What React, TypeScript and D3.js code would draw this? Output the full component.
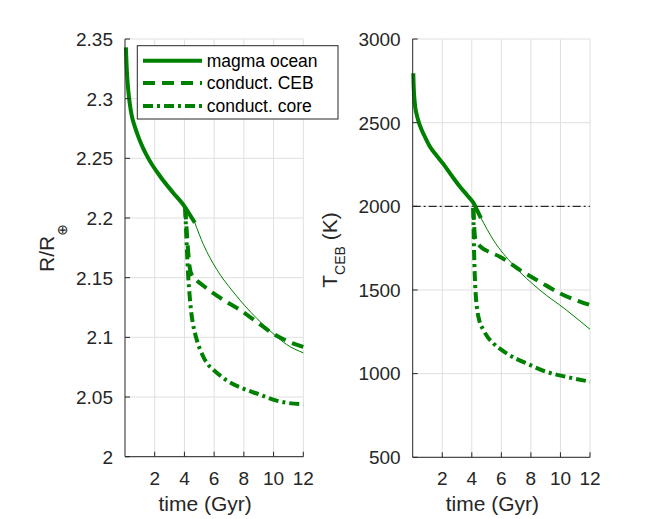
import React from "react";
import * as d3 from "d3";

// ---------- data ----------
const xTicks = [2, 4, 6, 8, 10, 12];
const rTicks = [2, 2.05, 2.1, 2.15, 2.2, 2.25, 2.3, 2.35];
const rTickLabels = ["2", "2.05", "2.1", "2.15", "2.2", "2.25", "2.3", "2.35"];
const tTicks = [500, 1000, 1500, 2000, 2500, 3000];
const tTickLabels = ["500", "1000", "1500", "2000", "2500", "3000"];

// Left panel: radius R/R_earth
const magmaTimeL = [0.06, 0.1, 0.15, 0.22, 0.32, 0.45, 0.65, 0.9, 1.2, 1.57, 2.36, 3.25, 4.05, 4.4, 4.7];
const magmaR = [2.343, 2.33, 2.318, 2.307, 2.296, 2.286, 2.277, 2.268, 2.259, 2.25, 2.235, 2.221, 2.209, 2.202, 2.196];
const thinTimeL = [4.7, 5.27, 6.17, 7.29, 8.86, 9.98, 10.88, 12];
const thinR = [2.196, 2.178, 2.157, 2.138, 2.116, 2.103, 2.094, 2.087];
const cebTimeL = [4.05, 4.15, 4.25, 4.35, 4.5, 4.8, 5.3, 5.94, 6.8, 7.74, 8.86, 9.98, 11.3, 12];
const cebR = [2.209, 2.19, 2.172, 2.159, 2.152, 2.148, 2.143, 2.137, 2.13, 2.123, 2.113, 2.103, 2.095, 2.092];
const coreTimeL = [4.05, 4.15, 4.25, 4.35, 4.45, 4.55, 4.7, 4.85, 5.05, 5.3, 5.6, 5.94, 6.84, 7.96, 9.08, 10.2, 11.0, 12];
const coreR = [2.209, 2.178, 2.152, 2.135, 2.122, 2.113, 2.104, 2.097, 2.09, 2.083, 2.077, 2.073, 2.064, 2.057, 2.052, 2.047, 2.045, 2.044];

// Right panel: T_CEB (K)
const magmaTimeR = [0.04, 0.06, 0.1, 0.17, 0.28, 0.42, 0.61, 0.9, 1.17, 1.6, 2.08, 2.6, 3.2, 3.7, 4.1, 4.35, 4.62];
const magmaT = [2795, 2730, 2660, 2595, 2545, 2500, 2456, 2402, 2356, 2305, 2252, 2188, 2117, 2065, 2022, 1978, 1930];
const thinTimeR = [4.62, 5.46, 6.81, 8.6, 10.4, 12];
const thinT = [1930, 1799, 1649, 1500, 1380, 1265];
const cebTimeR = [4.1, 4.14, 4.18, 4.23, 4.35, 4.55, 5.0, 5.9, 7.26, 8.6, 9.97, 12];
const cebT = [1990, 1920, 1850, 1809, 1785, 1762, 1735, 1699, 1619, 1549, 1480, 1410];
const coreTimeR = [4.1, 4.12, 4.15, 4.2, 4.26, 4.34, 4.5, 4.79, 5.1, 5.46, 6.36, 7.71, 9.06, 10.4, 12];
const coreT = [1990, 1880, 1740, 1590, 1480, 1400, 1320, 1261, 1215, 1181, 1121, 1061, 1011, 981, 952];
const solidusT = 2000;

const legendLabels = ["magma ocean", "conduct. CEB", "conduct. core"];

// ---------- style ----------
const W = 654;
const H = 519;
const green = "#008000";
const axisColor = "#262626";
const gridColor = "#dfdfdf";
const font = "'Liberation Sans', Arial, Helvetica, sans-serif";
const tickFont = 19;
const labelFont = 21;
const legendFont = 17.5;
const dashed = "12,7";
const dashDot = "10,4,3,4";

type Panel = {
  x: d3.ScaleLinear<number, number>;
  y: d3.ScaleLinear<number, number>;
  yTicks: number[];
  yLabels: string[];
};

function Grid({ x, y, yTicks }: Panel) {
  const [x0, x1] = x.range();
  const [y0, y1] = y.range();
  return (
    <g>
      {xTicks.map((t) => (
        <line key={"gx" + t} x1={x(t)} x2={x(t)} y1={y0} y2={y1} stroke={gridColor} strokeWidth={1} />
      ))}
      {yTicks.map((t) => (
        <line key={"gy" + t} x1={x0} x2={x1} y1={y(t)} y2={y(t)} stroke={gridColor} strokeWidth={1} />
      ))}
    </g>
  );
}

function AxisLines({ x, y, yTicks, yLabels }: Panel) {
  const [x0, x1] = x.range();
  const [y0, y1] = y.range();
  return (
    <g fontFamily={font} fill={axisColor}>
      <line x1={x0} x2={x0} y1={y0} y2={y1} stroke={axisColor} strokeWidth={1} />
      <line x1={x0} x2={x1} y1={y0} y2={y0} stroke={axisColor} strokeWidth={1} />
      {xTicks.map((t) => (
        <g key={"tx" + t}>
          <line x1={x(t)} x2={x(t)} y1={y0} y2={y0 - 5} stroke={axisColor} strokeWidth={1} />
          <text x={x(t)} y={y0 + 28} fontSize={tickFont} textAnchor="middle">
            {String(t)}
          </text>
        </g>
      ))}
      {yTicks.map((t, i) => (
        <g key={"ty" + t}>
          <line x1={x0} x2={x0 + 5} y1={y(t)} y2={y(t)} stroke={axisColor} strokeWidth={1} />
          <text x={x0 - 12} y={y(t)} dy="0.36em" fontSize={tickFont} textAnchor="end">
            {yLabels[i]}
          </text>
        </g>
      ))}
      <text x={(x0 + x1) / 2 - 9} y={511} fontSize={labelFont} textAnchor="middle">
        time (Gyr)
      </text>
    </g>
  );
}

function curve(xs: number[], ys: number[], x: d3.ScaleLinear<number, number>, y: d3.ScaleLinear<number, number>) {
  const pts = xs.map((v, i) => [v, ys[i]] as [number, number]);
  return d3
    .line<[number, number]>()
    .x((d) => x(d[0]))
    .y((d) => y(d[1]))
    .curve(d3.curveMonotoneX)(pts) as string;
}

export default function App() {
  const xL = d3.scaleLinear().domain([0, 12]).range([125, 303.3]);
  const yL = d3.scaleLinear().domain([2, 2.35]).range([456.7, 39]);
  const xR = d3.scaleLinear().domain([0, 12]).range([412.7, 590]);
  const yR = d3.scaleLinear().domain([500, 3000]).range([457.3, 39]);

  const left: Panel = { x: xL, y: yL, yTicks: rTicks, yLabels: rTickLabels };
  const right: Panel = { x: xR, y: yR, yTicks: tTicks, yLabels: tTickLabels };

  const legendRows = [60.7, 83, 106];
  const legendDash = [undefined, dashed, dashDot];

  return (
    <div style={{ position: "absolute", left: 0, top: 0 }}>
      <svg width={W} height={H} viewBox={`0 0 ${W} ${H}`} style={{ display: "block", background: "#fff" }}>
        <rect x={0} y={0} width={W} height={H} fill="#fff" />
        {/* Left panel */}
        <Grid {...left} />
        <g fill="none" stroke={green}>
          <path d={curve(thinTimeL, thinR, xL, yL)} strokeWidth={1} />
          <path d={curve(cebTimeL, cebR, xL, yL)} strokeWidth={4} strokeDasharray={dashed} />
          <path d={curve(coreTimeL, coreR, xL, yL)} strokeWidth={4} strokeDasharray={dashDot} />
          <path d={curve(magmaTimeL, magmaR, xL, yL)} strokeWidth={4} />
        </g>
        <AxisLines {...left} />
        <text
          transform={`translate(54,248) rotate(-90)`}
          fontFamily={font}
          fontSize={labelFont}
          fill={axisColor}
          textAnchor="middle"
        >
          R/R
          <tspan fontSize={14} dy={13} fontFamily="'DejaVu Sans', sans-serif">⊕</tspan>
        </text>

        {/* Legend */}
        <g fontFamily={font}>
          <rect x={137.3} y={45.7} width={200.7} height={73.3} fill="#fff" stroke={axisColor} strokeWidth={1} />
          {legendLabels.map((lab, i) => (
            <g key={lab}>
              <line
                x1={143}
                x2={202}
                y1={legendRows[i]}
                y2={legendRows[i]}
                stroke={green}
                strokeWidth={4}
                strokeDasharray={legendDash[i]}
              />
              <text x={206.7} y={legendRows[i]} dy="0.36em" fontSize={legendFont} fill="#000">
                {lab}
              </text>
            </g>
          ))}
        </g>

        {/* Right panel */}
        <Grid {...right} />
        <line
          x1={xR(0)}
          x2={xR(12)}
          y1={yR(solidusT)}
          y2={yR(solidusT)}
          stroke="#000"
          strokeWidth={1}
          strokeDasharray="8,3,2,3"
        />
        <g fill="none" stroke={green}>
          <path d={curve(thinTimeR, thinT, xR, yR)} strokeWidth={1} />
          <path d={curve(cebTimeR, cebT, xR, yR)} strokeWidth={4} strokeDasharray={dashed} />
          <path d={curve(coreTimeR, coreT, xR, yR)} strokeWidth={4} strokeDasharray={dashDot} />
          <path d={curve(magmaTimeR, magmaT, xR, yR)} strokeWidth={4} />
        </g>
        <AxisLines {...right} />
        <text
          transform={`translate(337,250) rotate(-90)`}
          fontFamily={font}
          fontSize={labelFont}
          fill={axisColor}
          textAnchor="middle"
        >
          T
          <tspan fontSize={14} dy={8}>CEB</tspan>
          <tspan dy={-8}> (K)</tspan>
        </text>
      </svg>
    </div>
  );
}
